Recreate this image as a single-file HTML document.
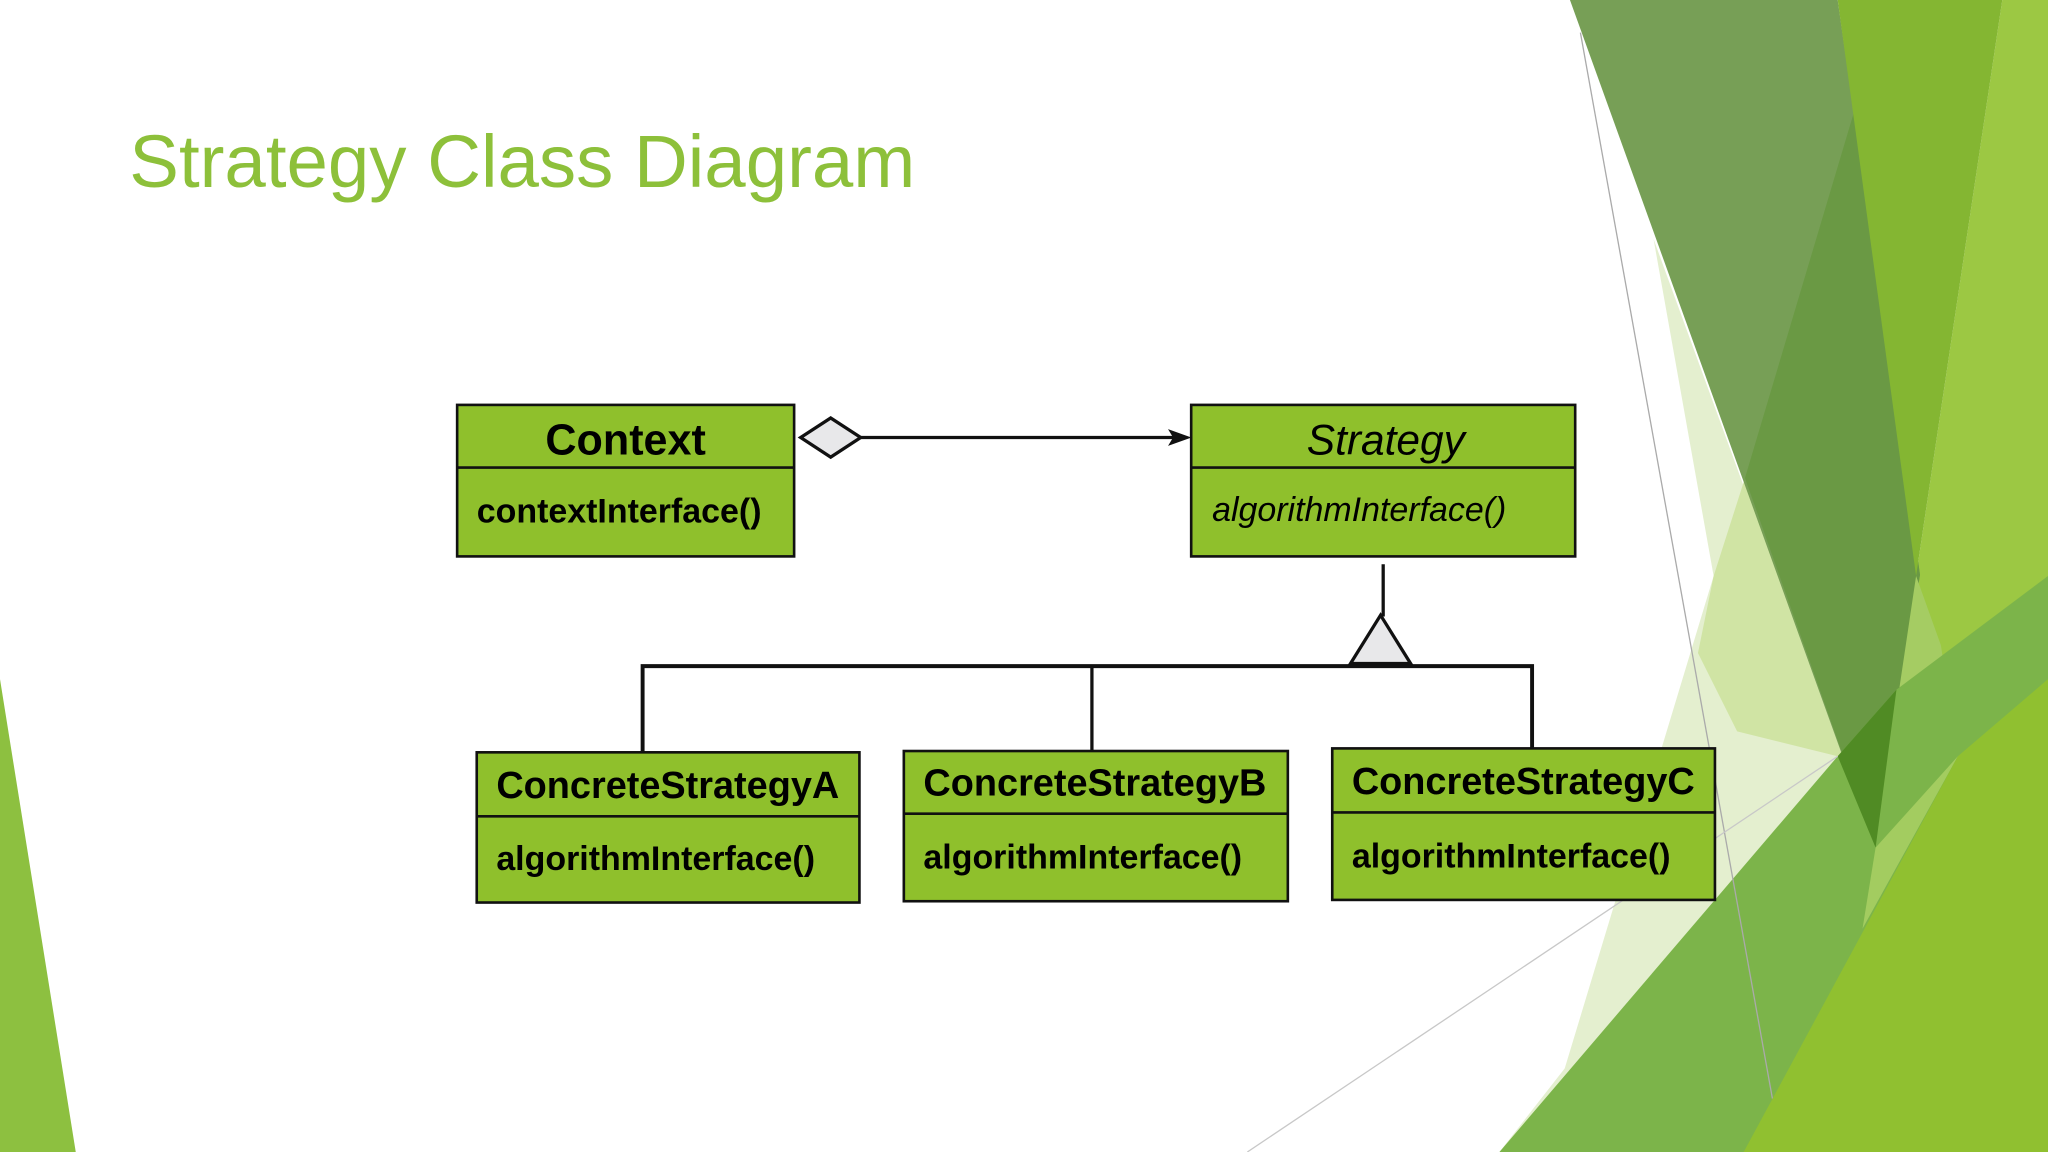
<!DOCTYPE html>
<html><head><meta charset="utf-8"><style>
html,body{margin:0;padding:0;background:#fff;}
svg{display:block;}
</style></head><body>
<svg width="2048" height="1152" viewBox="0 0 1568 882" xmlns="http://www.w3.org/2000/svg">
<rect width="1568" height="882" fill="#ffffff"/>
<!-- decorations right -->
<polygon points="1266,183 1436,649 1148,882 1198,818 1312,441" fill="#e4efcf"/>
<polygon points="1336,366 1436,649 1407,579 1330,560 1300,500 1312,441" fill="#d0e4a4"/>
<polygon points="1533,0 1568,0 1568,882 1400,882 1426,711 1467,441" fill="#9cc843"/>
<polygon points="1202,0 1407,0 1470,440 1436,649" fill="#779f56"/>
<polygon points="1420,84 1470,440 1436,649 1336,366" fill="#6a9944"/>
<polygon points="1407,0 1533,0 1467,441" fill="#84b632"/>
<polygon points="1467,441 1486,494 1499,579 1426,711 1436,649" fill="#a5cc63"/>
<polygon points="1148,882 1407,579 1452,528 1568,441 1568,882" fill="#7cb44a"/>
<polygon points="1407,579 1452,528 1436,649" fill="#508b24"/>
<polygon points="1436,649 1499,579 1426,711" fill="#a3cc60"/>
<polygon points="1335,882 1499,579 1568,520 1568,882" fill="#90c030"/>
<line x1="1210" y1="25" x2="1357" y2="841" stroke="#aaaaaa" stroke-width="1"/>
<line x1="955" y1="882" x2="1407" y2="579" stroke="#c8c8c8" stroke-width="1"/>
<!-- left -->
<polygon points="0,520 0,882 58,882" fill="#8dc040"/>
<!-- title -->
<text x="99" y="143" font-family="Liberation Sans, sans-serif" font-size="57" fill="#8dc03a">Strategy Class Diagram</text>
<g stroke="#111" stroke-width="2" fill="#8fc02c">
<rect x="350" y="310" width="258" height="116"/>
<line x1="350" y1="358" x2="608" y2="358"/>
<rect x="912" y="310" width="294" height="116"/>
<line x1="912" y1="358" x2="1206" y2="358"/>
<rect x="365" y="576" width="293" height="115"/>
<line x1="365" y1="625" x2="658" y2="625"/>
<rect x="692" y="575" width="294" height="115"/>
<line x1="692" y1="623" x2="986" y2="623"/>
<rect x="1020" y="573" width="293" height="116"/>
<line x1="1020" y1="622" x2="1313" y2="622"/>
</g>
<g font-family="Liberation Sans, sans-serif" font-weight="bold" fill="#000">
<text x="479" y="348" font-size="33" text-anchor="middle">Context</text>
<text x="365" y="400" font-size="26">contextInterface()</text>
<text x="380" y="611" font-size="29">ConcreteStrategyA</text>
<text x="380" y="666" font-size="26">algorithmInterface()</text>
<text x="707" y="609" font-size="29">ConcreteStrategyB</text>
<text x="707" y="665" font-size="26">algorithmInterface()</text>
<text x="1035" y="608" font-size="29">ConcreteStrategyC</text>
<text x="1035" y="664" font-size="26">algorithmInterface()</text>
</g>
<g font-family="Liberation Sans, sans-serif" font-style="italic" fill="#000">
<text x="1061" y="348" font-size="32.5" text-anchor="middle">Strategy</text>
<text x="928" y="399" font-size="26">algorithmInterface()</text>
</g>
<polygon points="613,335 636,320 659,335 636,350" fill="#e8e8ea" stroke="#111" stroke-width="2.5"/>
<line x1="659" y1="335" x2="900" y2="335" stroke="#111" stroke-width="2.5"/>
<polygon points="910,335 896,330 899,335 896,340" fill="#111" stroke="#111" stroke-width="1.5"/>
<line x1="1059" y1="432" x2="1059" y2="472" stroke="#111" stroke-width="2.5"/>
<polygon points="1057,471 1080,508 1034,508" fill="#e8e8ea" stroke="#111" stroke-width="2.5"/>
<polyline points="492,576 492,510 1173,510 1173,573" fill="none" stroke="#111" stroke-width="3"/>
<line x1="836" y1="510" x2="836" y2="575" stroke="#111" stroke-width="2.5"/>
</svg>
</body></html>
